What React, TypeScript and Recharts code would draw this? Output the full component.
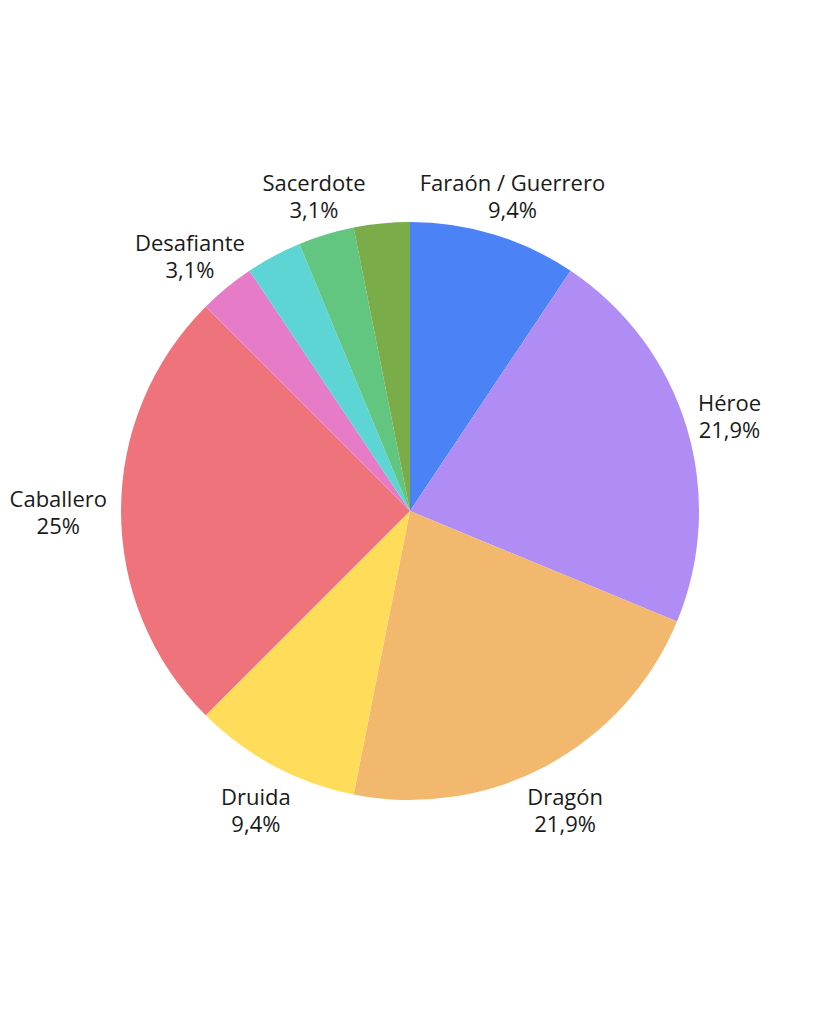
import { PieChart, Pie, Cell } from "recharts";

// slices clockwise from 12 o'clock
const names = [
  "Faraón / Guerrero",
  "Héroe",
  "Dragón",
  "Druida",
  "Caballero",
  "Desafiante",
  "Sin etiqueta 1",
  "Sacerdote",
  "Sin etiqueta 2",
];
const counts = [3, 7, 7, 3, 8, 1, 1, 1, 1];
const showLabel = [true, true, true, true, true, true, false, true, false];
const colors = [
  "#4B82F6",
  "#AF8DF5",
  "#F2B86E",
  "#FFDD5B",
  "#EF737A",
  "#E67BC8",
  "#5DD5D5",
  "#62C681",
  "#7BAC4A",
];

const data = names.map((name, i) => ({ name, value: counts[i] }));

const FONT = "22px 'Open Sans'";
const LINE = 27;
let ctx: CanvasRenderingContext2D | null = null;
function textWidth(s: string) {
  if (!ctx) ctx = document.createElement("canvas").getContext("2d");
  if (!ctx) return s.length * 11;
  ctx.font = FONT;
  return ctx.measureText(s).width;
}

function fmtPct(p: number) {
  return (p * 100).toFixed(1).replace(/\.0$/, "").replace(".", ",") + "%";
}

const RAD = Math.PI / 180;

function renderLabel(props: any) {
  const { cx, cy, midAngle, outerRadius, percent, index, name } = props;
  if (!showLabel[index]) return null;
  const dx = Math.cos(midAngle * RAD);
  const dy = -Math.sin(midAngle * RAD);
  const r = outerRadius + 14;
  const px = cx + dx * r;
  const py = cy + dy * r;
  const pct = fmtPct(percent);
  const w = Math.max(textWidth(name), textWidth(pct));
  const h = LINE * 2;
  const fx = Math.sign(dx) * Math.pow(Math.abs(dx), 1.5);
  const tx = px + fx * (w / 2);
  const ty = py + dy * (h / 2) + (dy > 0 ? 9 * dy : 0);
  return (
    <text
      x={tx}
      y={ty}
      textAnchor="middle"
      fill="#1a1a1a"
      style={{ font: FONT }}
    >
      <tspan x={tx} y={ty - LINE / 2} dominantBaseline="central">
        {name}
      </tspan>
      <tspan x={tx} y={ty + LINE / 2} dominantBaseline="central">
        {pct}
      </tspan>
    </text>
  );
}

export default function App() {
  return (
    <div style={{ width: 819, height: 1024, background: "#fff" }}>
      <style>{`body{margin:0}`}</style>
      <PieChart
        width={819}
        height={1024}
        margin={{ top: 0, right: 0, bottom: 0, left: 0 }}
      >
        <Pie
          data={data}
          dataKey="value"
          nameKey="name"
          cx={410}
          cy={511}
          outerRadius={289}
          startAngle={90}
          endAngle={-270}
          label={renderLabel}
          labelLine={false}
          stroke="none"
          isAnimationActive={false}
        >
          {data.map((d, i) => (
            <Cell key={d.name} fill={colors[i]} />
          ))}
        </Pie>
      </PieChart>
    </div>
  );
}
